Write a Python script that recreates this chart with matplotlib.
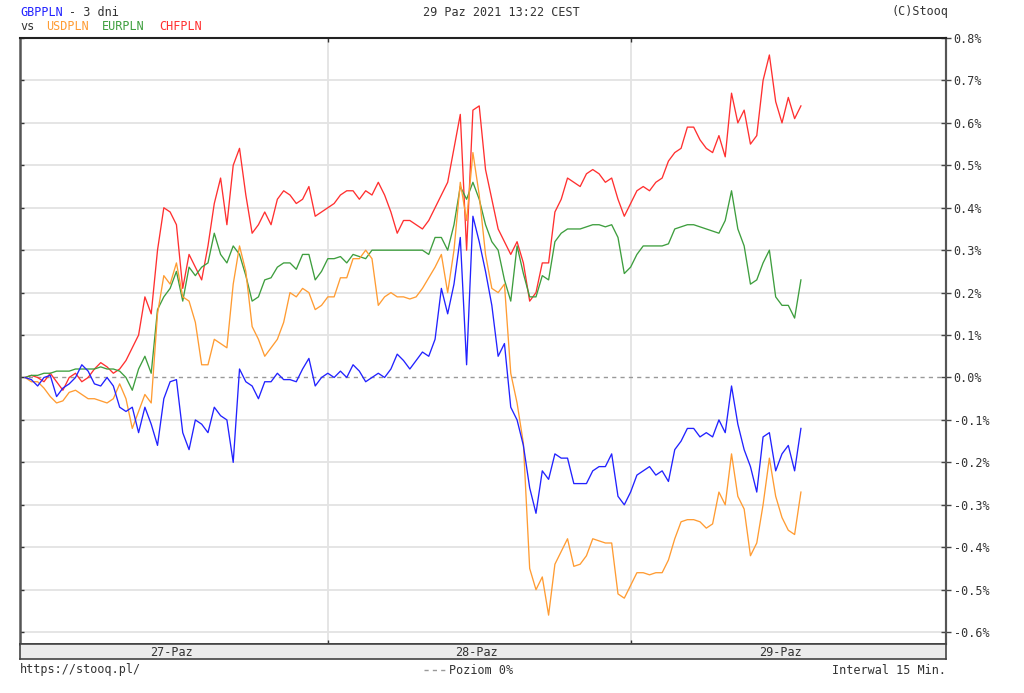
import numpy as np
import matplotlib
import matplotlib.pyplot as plt
from matplotlib.lines import Line2D

matplotlib.use('agg')

# ---------------------------------------------------------------
# percent change vs start, 30-min samples from 27-Paz 00:00
gbppln = [0.0, -0.005, -0.02, 0.0, 0.005, -0.045, -0.025, -0.015, 0.0, 0.03, 0.015, -0.015, -0.02, 0.0, -0.02, -0.07,
          -0.08, -0.07, -0.13, -0.07, -0.11, -0.16, -0.05, -0.01, -0.005, -0.13, -0.17, -0.10, -0.11, -0.13, -0.07, -0.09,
          -0.10, -0.20, 0.02, -0.01, -0.02, -0.05, -0.01, -0.01, 0.01, -0.005, -0.005, -0.01, 0.02, 0.045, -0.02, 0.0,
          0.01, 0.0, 0.015, 0.0, 0.03, 0.015, -0.01, 0.0, 0.01, 0.0, 0.02, 0.055, 0.04, 0.02, 0.04, 0.06,
          0.05, 0.09, 0.21, 0.15, 0.22, 0.33, 0.03, 0.38, 0.32, 0.25, 0.17, 0.05, 0.08, -0.07, -0.10, -0.16,
          -0.26, -0.32, -0.22, -0.24, -0.18, -0.19, -0.19, -0.25, -0.25, -0.25, -0.22, -0.21, -0.21, -0.18, -0.28, -0.30,
          -0.27, -0.23, -0.22, -0.21, -0.23, -0.22, -0.245, -0.17, -0.15, -0.12, -0.12, -0.14, -0.13, -0.14, -0.10, -0.13,
          -0.02, -0.11, -0.17, -0.21, -0.27, -0.14, -0.13, -0.22, -0.18, -0.16, -0.22, -0.12]
usdpln = [0.0, -0.01, -0.01, -0.025, -0.045, -0.06, -0.055, -0.035, -0.03, -0.04, -0.05, -0.05, -0.055, -0.06, -0.05, -0.015,
          -0.05, -0.12, -0.08, -0.04, -0.06, 0.15, 0.24, 0.22, 0.27, 0.19, 0.18, 0.13, 0.03, 0.03, 0.09, 0.08,
          0.07, 0.22, 0.31, 0.25, 0.12, 0.09, 0.05, 0.07, 0.09, 0.13, 0.20, 0.19, 0.21, 0.20, 0.16, 0.17,
          0.19, 0.19, 0.235, 0.235, 0.28, 0.28, 0.30, 0.28, 0.17, 0.19, 0.20, 0.19, 0.19, 0.185, 0.19, 0.21,
          0.235, 0.26, 0.29, 0.20, 0.30, 0.46, 0.37, 0.53, 0.43, 0.29, 0.21, 0.20, 0.22, 0.01, -0.06, -0.155,
          -0.45, -0.50, -0.47, -0.56, -0.44, -0.41, -0.38, -0.445, -0.44, -0.42, -0.38, -0.385, -0.39, -0.39, -0.51, -0.52,
          -0.49, -0.46, -0.46, -0.465, -0.46, -0.46, -0.43, -0.38, -0.34, -0.335, -0.335, -0.34, -0.355, -0.345, -0.27, -0.30,
          -0.18, -0.28, -0.31, -0.42, -0.39, -0.30, -0.19, -0.28, -0.33, -0.36, -0.37, -0.27]
eurpln = [0.0, 0.005, 0.005, 0.01, 0.01, 0.015, 0.015, 0.015, 0.02, 0.02, 0.02, 0.02, 0.025, 0.02, 0.02, 0.015,
          0.0, -0.03, 0.02, 0.05, 0.01, 0.16, 0.19, 0.21, 0.25, 0.18, 0.26, 0.24, 0.26, 0.27, 0.34, 0.29,
          0.27, 0.31, 0.29, 0.24, 0.18, 0.19, 0.23, 0.235, 0.26, 0.27, 0.27, 0.255, 0.29, 0.29, 0.23, 0.25,
          0.28, 0.28, 0.285, 0.27, 0.29, 0.285, 0.28, 0.30, 0.30, 0.30, 0.30, 0.30, 0.30, 0.30, 0.30, 0.30,
          0.29, 0.33, 0.33, 0.30, 0.36, 0.45, 0.42, 0.46, 0.42, 0.36, 0.32, 0.30, 0.23, 0.18, 0.31, 0.245,
          0.19, 0.19, 0.24, 0.23, 0.32, 0.34, 0.35, 0.35, 0.35, 0.355, 0.36, 0.36, 0.355, 0.36, 0.33, 0.245,
          0.26, 0.29, 0.31, 0.31, 0.31, 0.31, 0.315, 0.35, 0.355, 0.36, 0.36, 0.355, 0.35, 0.345, 0.34, 0.37,
          0.44, 0.35, 0.31, 0.22, 0.23, 0.27, 0.30, 0.19, 0.17, 0.17, 0.14, 0.23]
chfpln = [0.0, 0.005, 0.0, -0.01, 0.01, -0.01, -0.03, 0.0, 0.01, -0.01, 0.0, 0.02, 0.035, 0.025, 0.01, 0.02,
          0.04, 0.07, 0.10, 0.19, 0.15, 0.30, 0.40, 0.39, 0.36, 0.21, 0.29, 0.26, 0.23, 0.31, 0.41, 0.47,
          0.36, 0.50, 0.54, 0.43, 0.34, 0.36, 0.39, 0.36, 0.42, 0.44, 0.43, 0.41, 0.42, 0.45, 0.38, 0.39,
          0.40, 0.41, 0.43, 0.44, 0.44, 0.42, 0.44, 0.43, 0.46, 0.43, 0.39, 0.34, 0.37, 0.37, 0.36, 0.35,
          0.37, 0.40, 0.43, 0.46, 0.54, 0.62, 0.30, 0.63, 0.64, 0.49, 0.42, 0.35, 0.32, 0.29, 0.32, 0.27,
          0.18, 0.20, 0.27, 0.27, 0.39, 0.42, 0.47, 0.46, 0.45, 0.48, 0.49, 0.48, 0.46, 0.47, 0.42, 0.38,
          0.41, 0.44, 0.45, 0.44, 0.46, 0.47, 0.51, 0.53, 0.54, 0.59, 0.59, 0.56, 0.54, 0.53, 0.57, 0.52,
          0.67, 0.60, 0.63, 0.55, 0.57, 0.70, 0.76, 0.65, 0.60, 0.66, 0.61, 0.64]

day_bounds = [24, 48]
day_labels = ['27-Paz', '28-Paz', '29-Paz']
day_label_pos = [11.6, 35.8, 59.9]
yticks = np.round(np.arange(-0.6, 0.81, 0.1), 1)

hours = np.arange(len(gbppln)) * 0.5

c_gbp = '#2222ff'
c_usd = '#ff9c33'
c_eur = '#3e9e3e'
c_chf = '#ff3030'
txt = '#333333'
mono = 'DejaVu Sans Mono'
fs = 8.5

W, H = 1024, 693
fig = plt.figure(figsize=(W/100, H/100), dpi=100)
fig.patch.set_facecolor('white')

def fx(px):
    return px / W

def fy(py):
    return 1 - py / H

ax = fig.add_axes([fx(20), fy(644), fx(946) - fx(20), fy(38) - fy(644)])
ax.set_xlim(-0.4, 73.0)
ax.set_ylim(-0.628, 0.8)

# grid
for v in yticks:
    if v == 0:
        continue
    ax.axhline(v, color='#e3e3e3', lw=1.3, zorder=0)
for d in day_bounds:
    ax.axvline(d, color='#e3e3e3', lw=1.3, zorder=0)
ax.axhline(0, color='#999999', lw=1.0, ls=(0, (3, 3)), zorder=1)

ax.plot(hours, chfpln, color=c_chf, lw=0.95, zorder=3)
ax.plot(hours, eurpln, color=c_eur, lw=0.95, zorder=3)
ax.plot(hours, usdpln, color=c_usd, lw=0.95, zorder=3)
ax.plot(hours, gbppln, color=c_gbp, lw=0.95, zorder=4)

ax.set_yticks(yticks)
ax.set_xticks(day_bounds)
ax.tick_params(axis='y', left=True, right=False, labelleft=False, direction='in',
               length=3, width=1, color='#333333')
ax.tick_params(axis='x', top=True, bottom=True, labelbottom=False, direction='in',
               length=3, width=1, color='#333333')

sec = ax.secondary_yaxis('right')
sec.set_yticks(yticks)
sec.set_yticklabels(['%.1f%%' % v if v != 0 else '0.0%' for v in yticks],
                    fontfamily=mono, fontsize=fs, color=txt)
sec.tick_params(direction='inout', length=7, width=1, color='#444444', pad=2)
sec.spines['right'].set_color('#555555')
sec.spines['right'].set_linewidth(1.5)

ax.spines['left'].set_color('#555555')
ax.spines['left'].set_linewidth(1.8)
ax.spines['right'].set_color('#555555')
ax.spines['right'].set_linewidth(1.5)
ax.spines['top'].set_color('#222222')
ax.spines['top'].set_linewidth(1.5)
ax.spines['bottom'].set_color('#333333')
ax.spines['bottom'].set_linewidth(1.2)

# date band
band = fig.add_axes([fx(20), fy(659), fx(946) - fx(20), fy(644) - fy(659)])
band.set_facecolor('#ececec')
band.set_xlim(ax.get_xlim())
band.set_ylim(0, 1)
band.set_xticks([])
band.set_yticks([])
for s in band.spines.values():
    s.set_color('#444444')
    s.set_linewidth(1.2)
for p, lab in zip(day_label_pos, day_labels):
    band.text(p, 0.45, lab, ha='center', va='center', fontfamily=mono, fontsize=fs, color=txt)

# header
fig.text(fx(20), fy(12), 'GBPPLN', color=c_gbp, fontfamily=mono, fontsize=fs, va='center', ha='left')
fig.text(fx(69), fy(12), '- 3 dni', color=txt, fontfamily=mono, fontsize=fs, va='center', ha='left')
fig.text(fx(20), fy(27), 'vs', color=txt, fontfamily=mono, fontsize=fs, va='center', ha='left')
fig.text(fx(46), fy(27), 'USDPLN', color=c_usd, fontfamily=mono, fontsize=fs, va='center', ha='left')
fig.text(fx(102), fy(27), 'EURPLN', color=c_eur, fontfamily=mono, fontsize=fs, va='center', ha='left')
fig.text(fx(159), fy(27), 'CHFPLN', color=c_chf, fontfamily=mono, fontsize=fs, va='center', ha='left')
fig.text(fx(501), fy(12), '29 Paz 2021 13:22 CEST', color=txt, fontfamily=mono, fontsize=fs, va='center', ha='center')
fig.text(fx(948), fy(12), '(C)Stooq', color=txt, fontfamily=mono, fontsize=fs, va='center', ha='right')

# footer
fig.text(fx(20), fy(670), 'https://stooq.pl/', color=txt, fontfamily=mono, fontsize=fs, va='center', ha='left')
fig.add_artist(Line2D([fx(424), fx(446)], [fy(670), fy(670)], color='#999999', lw=1.0,
                      ls=(0, (3, 3)), transform=fig.transFigure))
fig.text(fx(449), fy(670), 'Poziom 0%', color=txt, fontfamily=mono, fontsize=fs, va='center', ha='left')
fig.text(fx(946), fy(670), 'Interwal 15 Min.', color=txt, fontfamily=mono, fontsize=fs, va='center', ha='right')

plt.savefig('out.png', dpi=100)
plt.close('all')
